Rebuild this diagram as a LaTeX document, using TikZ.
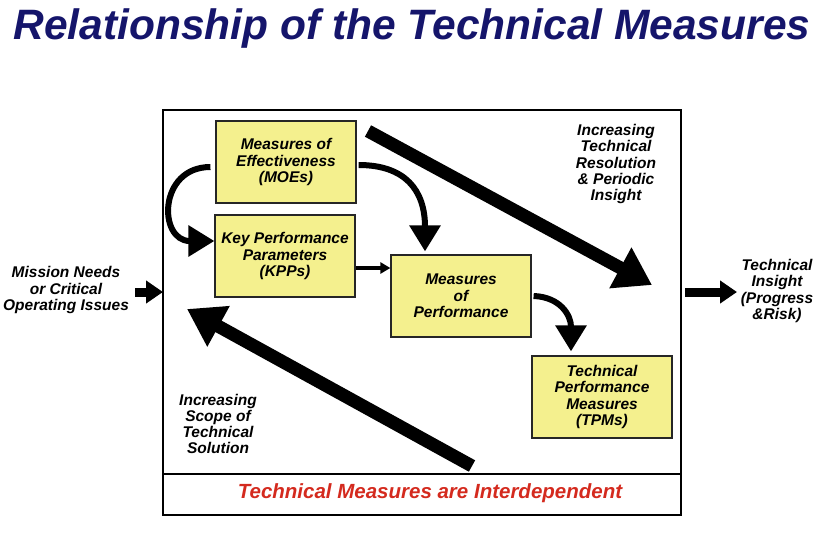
\documentclass[tikz,border=0pt]{standalone}
\usepackage{fontspec}
\setmainfont{Liberation Sans}
\usepackage{tikz}
\usetikzlibrary{arrows.meta, positioning}

\definecolor{navy}{HTML}{15156B}
\definecolor{boxyellow}{HTML}{F4F08E}
\definecolor{alertred}{HTML}{D42A1E}

\begin{document}
\begin{tikzpicture}[
  x=1pt, y=-1pt,
  measure/.style={rectangle, draw=black!85, line width=1.2pt, fill=boxyellow,
                  minimum width=140pt, minimum height=82pt, align=center, inner sep=1pt,
                  font=\fontsize{15.5}{16.5}\selectfont\bfseries\itshape},
  note/.style={align=center, font=\fontsize{15.5}{16.2}\selectfont\bfseries\itshape},
  curvearr/.style={line width=6pt, -{Triangle[length=26pt,width=30pt]}},
  trend/.style={line width=13pt, -{Triangle[length=36pt,width=44pt]}},
  io/.style={line width=9pt, -{Triangle[length=17pt,width=22pt]}}
]
\useasboundingbox (0,0) rectangle (837,533);

% title
\node[font=\fontsize{42.5}{46}\selectfont\bfseries\itshape, text=navy] (title) at (412,29)
  {Relationship of the Technical Measures};

% frame
\draw[line width=2.6pt] (163,110) rectangle (681,515);
\draw[line width=2.6pt] (163,474) -- (681,474);
\node[font=\fontsize{20.5}{22}\selectfont\bfseries\itshape, text=alertred] (interdep) at (430,493)
  {Technical Measures are Interdependent};

% measures
\node[measure] (moe)  at (286,162) {Measures of\\Effectiveness\\(MOEs)};
\node[measure] (kpp)  at (285,256) {Key Performance\\Parameters\\(KPPs)};
\node[measure] (mop)  at (461,296) {Measures\\of\\Performance};
\node[measure] (tpm)  at (602,397) {Technical\\Performance\\Measures\\(TPMs)};

% side texts
\node[note] (needs)   at (66,290)  {Mission Needs\\or Critical\\Operating Issues};
\node[note] (insight) at (777,291) {Technical\\Insight\\(Progress\\\&Risk)};
\node[note] (resol)   at (616,164) {Increasing\\Technical\\Resolution\\\& Periodic\\Insight};
\node[note] (scope)   at (218,424) {Increasing\\Scope of\\Technical\\Solution};

% free ends of the trend arrows
\coordinate (resA) at (368,131);
\coordinate (resB) at (652,285);
\coordinate (scoA) at (472,466);
\coordinate (scoB) at (187,309);
\coordinate (inB)  at (163,292);
\coordinate (outA) at (685,292);
\coordinate (outB) at (737,292);

% connectors
\draw[curvearr] ([xshift=-5pt,yshift=-5pt]moe.west) .. controls (158,167) and (158,241) .. ([yshift=15pt]kpp.west);
\draw[curvearr] ([xshift=2pt,yshift=-3pt]moe.east) .. controls (405,165) and (425,190) .. ([xshift=-36pt,yshift=3pt]mop.north);
\draw[line width=3.5pt, -{Triangle[length=10pt,width=11pt]}] ([yshift=-12pt]kpp.east) -- ([yshift=28pt]mop.west);
\draw[curvearr] ([xshift=2pt]mop.east) .. controls (560,297) and (571,315) .. ([xshift=-31pt,yshift=4pt]tpm.north);
\draw[trend] (resA) -- (resB);
\draw[trend] (scoA) -- (scoB);
\draw[io] ([xshift=3pt]needs.east |- inB) -- (inB);
\draw[io] (outA) -- (outB);
\end{tikzpicture}
\end{document}
